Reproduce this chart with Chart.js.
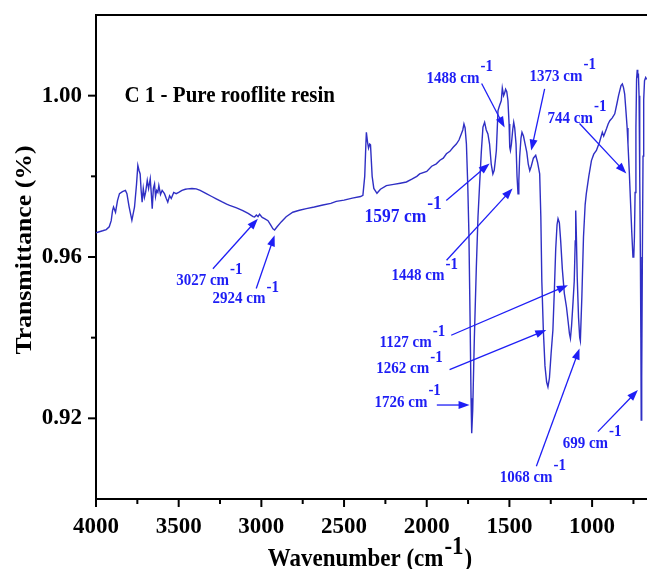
<!DOCTYPE html>
<html>
<head>
<meta charset="utf-8">
<script src="https://cdn.jsdelivr.net/npm/chart.js@4.4.1/dist/chart.umd.min.js"></script>
<style>
  html, body { margin: 0; padding: 0; background: #fff; }
  canvas { display: block; }
</style>
</head>
<body>
<canvas id="ftir" width="647" height="569"></canvas>
<script>
// FTIR spectrum (wavenumber in cm-1, transmittance)
var wavenumbers = [
  4000, 3960, 3938, 3920, 3908, 3900, 3894, 3882, 3870, 3858, 3840, 3822, 3813, 3800, 3783,
  3767, 3755, 3747, 3740, 3733, 3727, 3721, 3714, 3707, 3700, 3690, 3682, 3672, 3666, 3660,
  3653, 3646, 3640, 3633, 3626, 3620, 3610, 3600, 3586, 3575, 3566, 3555, 3545, 3530, 3515,
  3500, 3480, 3460, 3445, 3420, 3394, 3370, 3333, 3300, 3273, 3240, 3210, 3192, 3150, 3112,
  3080, 3050, 3041, 3030, 3020, 3011, 2995, 2981, 2960, 2945, 2930, 2920, 2905, 2880, 2850,
  2810, 2770, 2728, 2680, 2628, 2580, 2547, 2500, 2450, 2400, 2386, 2375, 2368, 2365, 2358,
  2352, 2345, 2340, 2330, 2320, 2301, 2280, 2244, 2200, 2160, 2123, 2090, 2060, 2043, 2000,
  1970, 1942, 1920, 1900, 1881, 1860, 1840, 1821, 1805, 1791, 1782, 1775, 1768, 1760, 1752,
  1745, 1738, 1732, 1728, 1722, 1712, 1700, 1690, 1680, 1670, 1660, 1650, 1640, 1630, 1620,
  1610, 1600, 1592, 1585, 1579, 1569, 1560, 1549, 1543, 1535, 1530, 1523, 1516, 1509, 1502,
  1498, 1494, 1488, 1480, 1474, 1468, 1460, 1454, 1448, 1443, 1438, 1430, 1424, 1415, 1405,
  1395, 1386, 1377, 1368, 1355, 1341, 1330, 1317, 1310, 1304, 1295, 1285, 1275, 1267, 1258,
  1248, 1237, 1228, 1220, 1212, 1206, 1198, 1190, 1180, 1168, 1155, 1145, 1137, 1131, 1124,
  1115, 1108, 1102, 1099, 1095, 1090, 1082, 1075, 1071, 1062, 1052, 1042, 1035, 1020, 1004,
  990, 974, 955, 938, 930, 925, 913, 903, 893, 878, 863, 850, 840, 833, 825,
  817, 810, 803, 795, 788, 783, 775, 768, 760, 753, 748, 744, 740, 735, 731,
  727, 724, 720, 716, 712, 708, 705, 703, 700, 696, 692, 688, 683, 676, 670
];
var transmittance = [
  0.9660, 0.9665, 0.9668, 0.9675, 0.9690, 0.9715, 0.9724, 0.9711, 0.9740, 0.9757, 0.9762, 0.9765, 0.9757, 0.9725, 0.9691,
  0.9724, 0.9780, 0.9827, 0.9815, 0.9806, 0.9765, 0.9736, 0.9770, 0.9748, 0.9760, 0.9790, 0.9770, 0.9794, 0.9760, 0.9720,
  0.9770, 0.9781, 0.9750, 0.9765, 0.9760, 0.9777, 0.9755, 0.9765, 0.9757, 0.9745, 0.9736, 0.9752, 0.9745, 0.9760, 0.9757,
  0.9760, 0.9765, 0.9768, 0.9769, 0.9770, 0.9769, 0.9765, 0.9757, 0.9750, 0.9744, 0.9737, 0.9731, 0.9728, 0.9722, 0.9715,
  0.9708, 0.9700, 0.9699, 0.9704, 0.9700, 0.9706, 0.9698, 0.9695, 0.9690, 0.9680, 0.9670, 0.9667, 0.9675, 0.9687, 0.9700,
  0.9711, 0.9716, 0.9720, 0.9724, 0.9729, 0.9733, 0.9738, 0.9741, 0.9746, 0.9750, 0.9753, 0.9800, 0.9880, 0.9909, 0.9885,
  0.9870, 0.9880, 0.9878, 0.9800, 0.9770, 0.9758, 0.9768, 0.9777, 0.9780, 0.9783, 0.9786, 0.9793, 0.9800, 0.9806, 0.9812,
  0.9825, 0.9831, 0.9840, 0.9845, 0.9856, 0.9862, 0.9872, 0.9880, 0.9890, 0.9905, 0.9915, 0.9930, 0.9920, 0.9880, 0.9780,
  0.9658, 0.9450, 0.9250, 0.9163, 0.9220, 0.9400, 0.9575, 0.9700, 0.9782, 0.9860, 0.9922, 0.9934, 0.9915, 0.9905, 0.9880,
  0.9830, 0.9806, 0.9815, 0.9840, 0.9864, 0.9963, 0.9975, 0.9988, 1.0019, 1.0000, 1.0005, 1.0016, 1.0010, 0.9988, 0.9930,
  0.9872, 0.9864, 0.9880, 0.9915, 0.9934, 0.9920, 0.9880, 0.9800, 0.9757, 0.9790, 0.9848, 0.9895, 0.9909, 0.9900, 0.9880,
  0.9860, 0.9830, 0.9814, 0.9825, 0.9845, 0.9852, 0.9835, 0.9806, 0.9700, 0.9540, 0.9420, 0.9330, 0.9290, 0.9278, 0.9300,
  0.9360, 0.9419, 0.9520, 0.9620, 0.9680, 0.9695, 0.9685, 0.9640, 0.9570, 0.9510, 0.9476, 0.9440, 0.9410, 0.9398, 0.9430,
  0.9490, 0.9540, 0.9640, 0.9715, 0.9650, 0.9550, 0.9450, 0.9400, 0.9392, 0.9500, 0.9650, 0.9730, 0.9757, 0.9800, 0.9839,
  0.9855, 0.9864, 0.9885, 0.9909, 0.9900, 0.9905, 0.9918, 0.9930, 0.9938, 0.9945, 0.9955, 0.9980, 1.0000, 1.0012, 1.0025,
  1.0029, 1.0020, 1.0004, 0.9960, 0.9920, 0.9880, 0.9810, 0.9740, 0.9660, 0.9600, 0.9600, 0.9650, 0.9760, 0.9920, 1.0040,
  1.0064, 1.0045, 1.0055, 1.0000, 0.9800, 0.9600, 0.9400, 0.9196, 0.9300, 0.9600, 0.9850, 0.9990, 1.0037, 1.0045, 1.0040
];

var xTicks = [4000, 3750, 3500, 3250, 3000, 2750, 2500, 2250, 2000, 1750, 1500, 1250, 1000, 750];
var xTickLabels = [4000, 3500, 3000, 2500, 2000, 1500, 1000];
var yTicks = [0.90, 0.92, 0.94, 0.96, 0.98, 1.00, 1.02];
var yTickLabels = [0.92, 0.96, 1.00];

var peakLabels = ["3027", "2924", "1597", "1448", "1488", "1373", "744", "1127", "1262", "1726", "1068", "699"];
// label spot and arrow (tail -> head), in wavenumber / transmittance units
var notePos = [
  { text: [3515, 0.9530], tail: [3293, 0.9571], head: [3021, 0.9695] },
  { text: [3295, 0.9485], tail: [3031, 0.9522], head: [2920, 0.9654] },
  { text: [2376, 0.9686], tail: [1882, 0.9740], head: [1620, 0.9832], big: true },
  { text: [2213, 0.9542], tail: [1880, 0.9592], head: [1481, 0.9770] },
  { text: [2001, 1.0032], tail: [1668, 1.0030], head: [1529, 0.9921] },
  { text: [1378, 1.0037], tail: [1287, 1.0017], head: [1368, 0.9864] },
  { text: [1269, 0.9933], tail: [1076, 0.9931], head: [793, 0.9807] },
  { text: [2285, 0.9377], tail: [1852, 0.9406], head: [1146, 0.9530] },
  { text: [2305, 0.9312], tail: [1862, 0.9321], head: [1277, 0.9419] },
  { text: [2316, 0.9229], tail: [1939, 0.9233], head: [1741, 0.9233] },
  { text: [1559, 0.9043], tail: [1337, 0.9081], head: [1076, 0.9373] },
  { text: [1178, 0.9127], tail: [965, 0.9167], head: [723, 0.9270] }
];

var serif = '"Liberation Serif", "Times New Roman", serif';
var VS = 1.12; // the original text is a bit taller than wide
var noteBlue = "#1e1ef5";

function textAt(ctx, s, x, y, size, color, align, rotate) {
  ctx.save();
  ctx.translate(x, y);
  ctx.scale(1, VS);
  if (rotate) ctx.rotate(-Math.PI / 2);
  ctx.font = "bold " + size + "px " + serif;
  ctx.fillStyle = color;
  ctx.textAlign = align || "left";
  ctx.textBaseline = "alphabetic";
  ctx.fillText(s, 0, 0);
  ctx.restore();
}

function textSup(ctx, main, sup, x, y, size, color, rise) {
  ctx.save();
  ctx.translate(x, y);
  ctx.scale(1, VS);
  ctx.font = "bold " + size + "px " + serif;
  ctx.fillStyle = color;
  ctx.textAlign = "left";
  ctx.textBaseline = "alphabetic";
  ctx.fillText(main, 0, 0);
  var w = ctx.measureText(main).width;
  ctx.fillText(sup, w + 1, -size * rise);
  ctx.restore();
}

function arrow(ctx, x1, y1, x2, y2, color) {
  var a = Math.atan2(y2 - y1, x2 - x1);
  var L = 11, W = 4;
  var c = Math.cos(a), s = Math.sin(a);
  ctx.save();
  ctx.strokeStyle = color;
  ctx.fillStyle = color;
  ctx.lineWidth = 1.3;
  ctx.beginPath();
  ctx.moveTo(x1, y1);
  ctx.lineTo(x2 - L * c * 0.8, y2 - L * s * 0.8);
  ctx.stroke();
  ctx.beginPath();
  ctx.moveTo(x2, y2);
  ctx.lineTo(x2 - L * c + W * s, y2 - L * s - W * c);
  ctx.lineTo(x2 - L * c - W * s, y2 - L * s + W * c);
  ctx.closePath();
  ctx.fill();
  ctx.restore();
}

var decorations = {
  id: "decorations",
  afterDraw: function (chart) {
    var ctx = chart.ctx;
    var area = chart.chartArea;
    var xs = chart.scales.x, ys = chart.scales.y;

    ctx.save();
    ctx.strokeStyle = "#000";
    ctx.lineWidth = 2;
    // top frame line
    ctx.beginPath();
    ctx.moveTo(area.left - 1, area.top);
    ctx.lineTo(chart.width, area.top);
    ctx.stroke();
    // tick marks, longer on labelled ones
    xTicks.forEach(function (v) {
      var px = xs.getPixelForValue(v);
      var len = xTickLabels.indexOf(v) >= 0 ? 8 : 5;
      ctx.beginPath();
      ctx.moveTo(px, area.bottom);
      ctx.lineTo(px, area.bottom + len);
      ctx.stroke();
    });
    yTicks.forEach(function (v) {
      if (v >= 1.02 || v <= 0.90) return;
      var py = ys.getPixelForValue(v);
      var len = yTickLabels.some(function (t) { return Math.abs(t - v) < 1e-6; }) ? 8 : 5;
      ctx.beginPath();
      ctx.moveTo(area.left, py);
      ctx.lineTo(area.left - len, py);
      ctx.stroke();
    });
    ctx.restore();

    // axis titles
    textAt(ctx, "Transmittance (%)", 31, 250, 23, "#000", "center", true);
    ctx.save();
    ctx.font = "bold 23px " + serif;
    var w1 = ctx.measureText("Wavenumber (cm").width;
    var w2 = ctx.measureText("-1").width;
    var w3 = ctx.measureText(")").width;
    ctx.restore();
    var x0 = 370 - (w1 + w2 + w3 + 2) / 2;
    textSup(ctx, "Wavenumber (cm", "-1", x0, 566, 23, "#000", 0.45);
    textAt(ctx, ")", x0 + w1 + w2 + 2, 566, 23, "#000", "left");

    // sample name
    textAt(ctx, "C 1 - Pure rooflite resin", xs.getPixelForValue(3828), ys.getPixelForValue(0.9985), 21, "#000", "left");

    // peak notes
    peakLabels.forEach(function (lab, i) {
      var n = notePos[i];
      var size = n.big ? 17.5 : 15;
      textSup(ctx, lab + " cm", "-1", xs.getPixelForValue(n.text[0]), ys.getPixelForValue(n.text[1]), size, noteBlue, 0.68);
      arrow(ctx,
        xs.getPixelForValue(n.tail[0]), ys.getPixelForValue(n.tail[1]),
        xs.getPixelForValue(n.head[0]), ys.getPixelForValue(n.head[1]), noteBlue);
    });
  }
};

var points = wavenumbers.map(function (w, i) {
  return { x: w, y: transmittance[i] };
});

var ctx = document.getElementById("ftir").getContext("2d");
var ftirChart = new Chart(ctx, {
  type: "line",
  data: {
    datasets: [
      {
        data: points,
        borderColor: "#2f2fc4",
        borderWidth: 1.4,
        pointRadius: 0,
        tension: 0,
        fill: false,
      },
    ],
  },
  options: {
    responsive: false,
    animation: false,
    layout: { padding: { top: 15, right: 0, bottom: 0, left: 0 } },
    plugins: {
      legend: { display: false },
      tooltip: { enabled: false },
    },
    scales: {
      x: {
        type: "linear",
        reverse: true,
        min: 668,
        max: 4000,
        afterBuildTicks: function (scale) {
          scale.ticks = xTicks.map(function (v) { return { value: v }; });
        },
        afterFit: function (scale) {
          scale.height = 70;
          scale.paddingLeft = 0;
          scale.paddingRight = 0;
        },
        ticks: {
          autoSkip: false,
          maxRotation: 0,
          padding: 14,
          color: "#000",
          font: { family: serif, size: 23, weight: "bold" },
          callback: function (v) { return xTickLabels.indexOf(v) >= 0 ? String(v) : ""; },
        },
        grid: { drawOnChartArea: false, drawTicks: false },
        border: { color: "#000", width: 2 },
      },
      y: {
        min: 0.90,
        max: 1.02,
        afterBuildTicks: function (scale) {
          scale.ticks = yTicks.map(function (v) { return { value: v }; });
        },
        afterFit: function (scale) {
          scale.width = 96;
          scale.paddingTop = 0;
          scale.paddingBottom = 0;
        },
        ticks: {
          autoSkip: false,
          padding: 14,
          color: "#000",
          font: { family: serif, size: 23, weight: "bold" },
          callback: function (v) {
            var hit = yTickLabels.some(function (t) { return Math.abs(t - v) < 1e-6; });
            return hit ? v.toFixed(2) : "";
          },
        },
        grid: { drawOnChartArea: false, drawTicks: false },
        border: { color: "#000", width: 2 },
      },
    },
  },
  plugins: [decorations],
});
</script>
</body>
</html>
